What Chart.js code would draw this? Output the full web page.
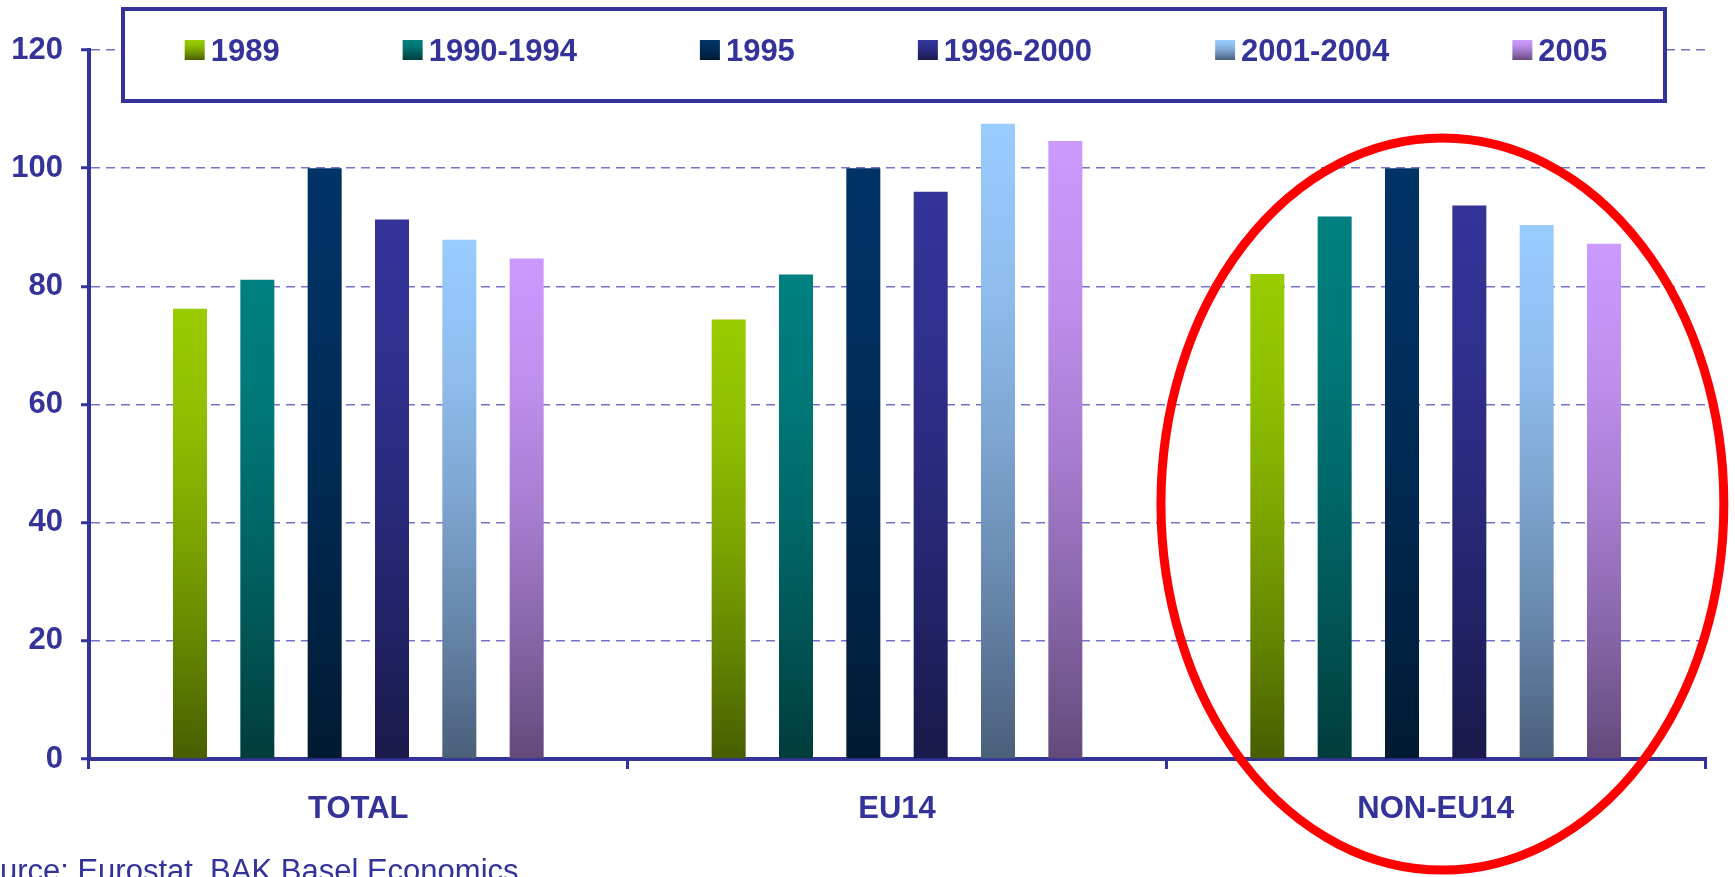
<!DOCTYPE html>
<html><head><meta charset="utf-8">
<script src="https://cdn.jsdelivr.net/npm/chart.js@4/dist/chart.umd.min.js"></script>
<style>html,body{margin:0;padding:0;background:#fff;overflow:hidden}
#wrap{position:relative;width:1735px;height:877px}</style>
</head><body><div id="wrap"><canvas id="c" width="1735" height="877"></canvas></div>
<script>
// ---- data ----
const categories = ['TOTAL', 'EU14', 'NON-EU14'];
const seriesLabels = ['1989', '1990-1994', '1995', '1996-2000', '2001-2004', '2005'];
const v1989 = [76.2, 74.4, 82.1];
const v1990_1994 = [81.1, 82.0, 91.8];
const v1995 = [100, 100, 100];
const v1996_2000 = [91.3, 96.0, 93.7];
const v2001_2004 = [87.9, 107.5, 90.4];
const v2005 = [84.7, 104.6, 87.2];
const seriesValues = [v1989, v1990_1994, v1995, v1996_2000, v2001_2004, v2005];
const topColors = ['#99CC00', '#008080', '#003366', '#333399', '#99CCFF', '#CC99FF'];
const bottomColors = ['#485E00', '#013C3C', '#011A31', '#19194A', '#4A5F7A', '#634A7A'];
const sourceText = 'Source: Eurostat, BAK Basel Economics';
// highlighted group (ellipse annotation) in data units
const highlight = { category: 2, left: -0.51, right: 0.535, yTop: 105.1, yBottom: -18.8 };

const NAVY = '#333399';
const FONT = '"Liberation Sans", Arial, Helvetica, sans-serif';
Chart.defaults.font.family = FONT;
Chart.defaults.color = NAVY;

function hexToRgb(h) { h = h.replace('#', ''); return [0, 2, 4].map(i => parseInt(h.substr(i, 2), 16)); }
function mix(a, b, f) {
  const A = hexToRgb(a), B = hexToRgb(b);
  return 'rgb(' + A.map((v, i) => Math.round(v + (B[i] - v) * f)).join(',') + ')';
}
function makeGrad(ctx, y0, y1, top, bottom) {
  const g = ctx.createLinearGradient(0, y0, 0, y1);
  [0, 0.25, 0.5, 0.75, 1].forEach(t => g.addColorStop(t, mix(top, bottom, Math.pow(t, 1.5))));
  return g;
}

const datasets = seriesLabels.map((lab, i) => ({
  label: lab,
  data: seriesValues[i],
  backgroundColor: (c) => {
    const chart = c.chart;
    if (!chart.chartArea || c.type !== 'data' || !chart.scales.y) return topColors[i];
    const y = chart.scales.y;
    return makeGrad(chart.ctx, y.getPixelForValue(c.raw), y.getPixelForValue(0), topColors[i], bottomColors[i]);
  },
  borderWidth: 0,
  barPercentage: 0.505,
  categoryPercentage: 0.75
}));

const overlay = {
  id: 'overlay',
  afterDraw(chart) {
    const ctx = chart.ctx;
    ctx.save();
    // legend box
    const bx = 123, by = 9, bw = 1542, bh = 92;
    ctx.fillStyle = '#fff';
    ctx.fillRect(bx, by, bw, bh);
    ctx.lineWidth = 4;
    ctx.strokeStyle = NAVY;
    ctx.strokeRect(bx, by, bw, bh);
    ctx.font = 'bold 31px ' + FONT;
    const sw = 20, sh = 20, gapText = 6, gapItem = 123;
    const ds = chart.data.datasets;
    const widths = ds.map(d => sw + gapText + ctx.measureText(d.label).width);
    const total = widths.reduce((a, b) => a + b, 0) + gapItem * (ds.length - 1);
    let x = bx + bw / 2 - total / 2 + 2;
    const cy = 50;
    ds.forEach((d, i) => {
      ctx.fillStyle = makeGrad(ctx, cy - sh / 2, cy + sh / 2, topColors[i], bottomColors[i]);
      ctx.fillRect(x, cy - sh / 2, sw, sh);
      ctx.fillStyle = NAVY;
      ctx.textBaseline = 'middle';
      ctx.textAlign = 'left';
      ctx.fillText(d.label, x + sw + gapText, cy + 2);
      x += widths[i] + gapItem;
    });
    // source
    ctx.font = '31px ' + FONT;
    ctx.fillStyle = NAVY;
    ctx.textBaseline = 'alphabetic';
    ctx.fillText(sourceText, -38, 881);
    // ellipse annotation
    const xs = chart.scales.x, ys = chart.scales.y;
    const l = xs.getPixelForValue(highlight.category + highlight.left);
    const r = xs.getPixelForValue(highlight.category + highlight.right);
    const t = ys.getPixelForValue(highlight.yTop);
    const b = ys.getPixelForValue(highlight.yBottom);
    ctx.beginPath();
    ctx.ellipse((l + r) / 2, (t + b) / 2, (r - l) / 2, (b - t) / 2, 0, 0, Math.PI * 2);
    ctx.lineWidth = 9;
    ctx.strokeStyle = '#FF0000';
    ctx.stroke();
    ctx.restore();
  }
};

new Chart(document.getElementById('c'), {
  type: 'bar',
  data: { labels: categories, datasets },
  plugins: [overlay],
  options: {
    responsive: false,
    animation: false,
    devicePixelRatio: 1,
    layout: { padding: { top: 50, right: 30, left: 0, bottom: 0 } },
    plugins: { legend: { display: false }, tooltip: { enabled: false }, title: { display: false } },
    scales: {
      x: {
        afterFit: (s) => { s.height = 118; },
        grid: { drawOnChartArea: false, drawTicks: true, tickLength: 10, color: NAVY, lineWidth: 3, offset: true },
        border: { display: true, color: NAVY, width: 4 },
        ticks: { color: NAVY, font: { size: 31, weight: 'bold' }, padding: 22 }
      },
      y: {
        min: 0, max: 120,
        afterFit: (s) => { s.width = 89; },
        grid: {
          color: (c) => (c.tick && c.tick.value === 0) ? 'rgba(0,0,0,0)' : 'rgba(100,100,195,0.9)',
          lineWidth: 1.5,
          drawTicks: true, tickLength: 8, tickColor: NAVY, tickWidth: 3, tickBorderDash: []
        },
        border: { display: true, color: NAVY, width: 4, dash: [9, 6] },
        ticks: { stepSize: 20, color: NAVY, font: { size: 31, weight: 'bold' }, padding: 18 }
      }
    }
  }
});
</script></body></html>
